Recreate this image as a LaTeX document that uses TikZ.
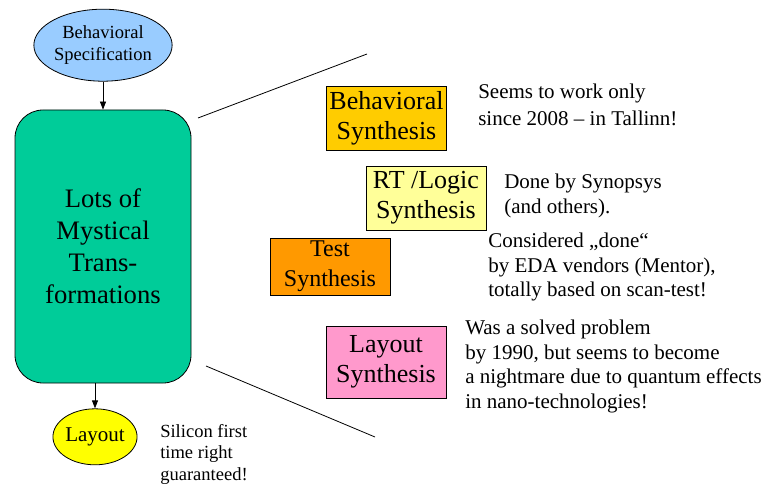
\documentclass[tikz,border=0pt]{standalone}
\usepackage{fontspec}
\setmainfont{Liberation Serif}
\usetikzlibrary{positioning,shapes.geometric,arrows.meta}

\definecolor{specBlue}{HTML}{99CCFF}
\definecolor{mysticGreen}{HTML}{00CC99}
\definecolor{layoutYellow}{HTML}{FFFF00}
\definecolor{behGold}{HTML}{FFCC00}
\definecolor{rtlPale}{HTML}{FFFF99}
\definecolor{testOrange}{HTML}{FF9900}
\definecolor{layoutPink}{HTML}{FF99CC}

\begin{document}
\begin{tikzpicture}[x=0.75pt, y=-0.75pt,
    blob/.style={ellipse, draw, line width=0.6pt, inner sep=0pt, align=center},
    synbox/.style={draw, line width=0.6pt, inner sep=0pt, align=center, minimum width=90pt,
        minimum height=48pt, font=\fontsize{19.5}{22.5}\selectfont},
    note/.style={anchor=north west, inner sep=0pt, align=left, font=\fontsize{15.75}{18.4}\selectfont},
    flow/.style={line width=0.6pt, -{Triangle[length=6pt, width=4.5pt]}}]
    \useasboundingbox (0,0) rectangle (770,488);
    \node[draw, line width=0.6pt, rounded corners=21pt, fill=mysticGreen, minimum width=132pt,
        minimum height=204.75pt, align=center, font=\fontsize{20}{24}\selectfont]
        (trans) at (103,246.5) {Lots of\\Mystical\\Trans-\\formations};
    \node[blob, fill=specBlue, minimum width=84pt, minimum height=54pt, above=21pt of trans,
        font=\fontsize{13.9}{16.5}\selectfont] (specIn) {Behavioral\\Specification};
    \node[blob, fill=layoutYellow, minimum width=60pt, minimum height=42pt, below=18.75pt of trans,
        xshift=-6pt, font=\fontsize{15.75}{18}\selectfont] (layoutOut) {Layout};
    \draw[flow] (specIn) -- (trans);
    \draw[flow] (layoutOut |- trans.south) -- (layoutOut);
    \node[note, font=\fontsize{13.9}{16.2}\selectfont] (siliconNote) at (160,424) {Silicon first\\time right\\guaranteed!};

    \coordinate (zoomTopL) at (198,118);
    \coordinate (zoomTopR) at (367,54);
    \coordinate (zoomBotL) at (206,366);
    \coordinate (zoomBotR) at (375,437);
    \draw[line width=0.6pt] (zoomTopL) -- (zoomTopR);
    \draw[line width=0.6pt] (zoomBotL) -- (zoomBotR);

    \node[synbox, fill=behGold] (behSyn) at (386.5,118) {Behavioral\\Synthesis};
    \node[synbox, fill=rtlPale] (rtlSyn) at (426,198) {RT /Logic\\Synthesis};
    \node[synbox, fill=testOrange, minimum height=42.75pt, font=\fontsize{18}{22.5}\selectfont]
        (testSyn) at (330,266.5) {Test\\Synthesis};
    \node[synbox, fill=layoutPink, minimum height=54pt] (layoutSyn) at (386,362) {Layout\\Synthesis};

    \node[note, font=\fontsize{15.75}{20.25}\selectfont] (behNote) at (478,84) {Seems to work only\\since 2008 -- in Tallinn!};
    \node[note] (rtlNote) at (504,174) {Done by Synopsys\\(and others).};
    \node[note] (testNote) at (488,233) {Considered „done“\\by EDA vendors (Mentor),\\totally based on scan-test!};
    \node[note] (layoutNote) at (465,320) {Was a solved problem\\by 1990, but seems to become\\a nightmare due to quantum effects\\in nano-technologies!};
\end{tikzpicture}
\end{document}
